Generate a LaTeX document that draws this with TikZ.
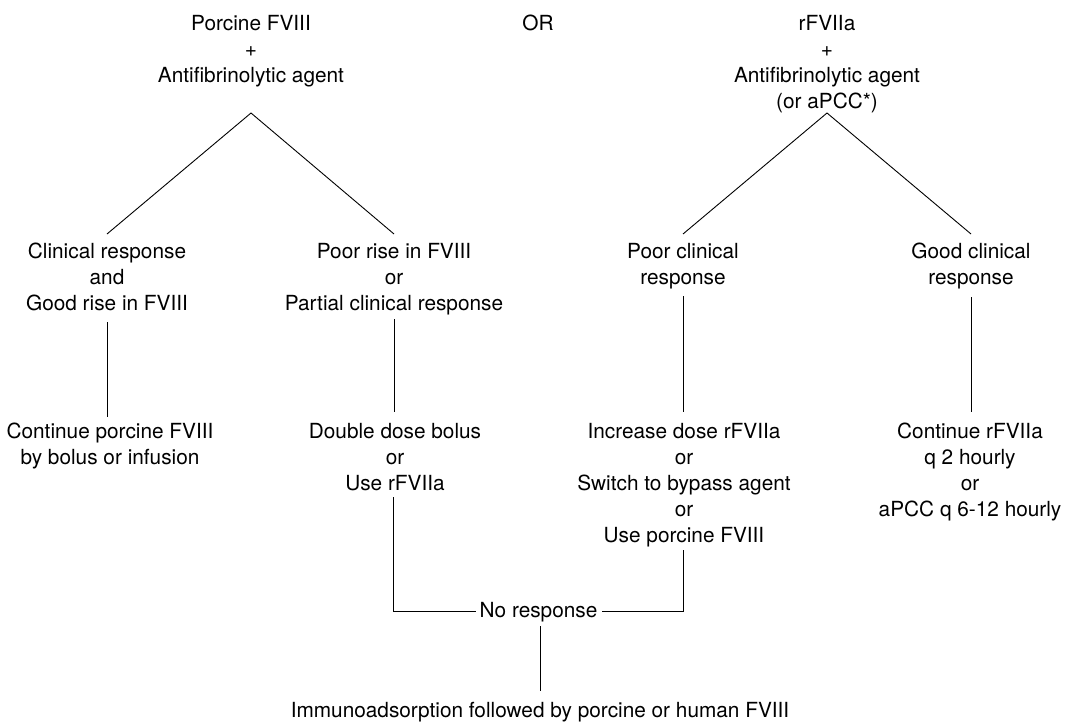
\documentclass[tikz,border=0pt]{standalone}
\usepackage{fontspec}
\setmainfont{TeX Gyre Heros}
\usetikzlibrary{calc}
\begin{document}
\begin{tikzpicture}[x=1pt,y=-1pt,
  txt/.style={inner sep=0pt, outer sep=0pt, align=center, anchor=base,
    font=\fontsize{20.8}{26}\selectfont},
  conn/.style={draw=black, line width=0.9pt}]
\useasboundingbox (0,0) rectangle (1067,723);
% top row (positions are baselines of the last line)
\node[txt] (topL) at (251,82) {Porcine FVIII\\+\\Antifibrinolytic agent};
\node[txt] (orw)  at (538,30) {OR};
\node[txt] (topR) at (827,108) {rFVIIa\\+\\Antifibrinolytic agent\\(or aPCC*)};
% second row
\node[txt] (cl) at (107,310) {Clinical response\\and\\Good rise in FVIII};
\node[txt] (pr) at (394,310) {Poor rise in FVIII\\or\\Partial clinical response};
\node[txt] (pc) at (683,284) {Poor clinical\\response};
\node[txt] (gc) at (971,284) {Good clinical\\response};
% third row
\node[txt] (c1) at (110,464) {Continue porcine FVIII\\by bolus or infusion};
\node[txt] (db) at (395,490) {Double dose bolus\\or\\Use rFVIIa};
\node[txt] (inc) at (684,542) {Increase dose rFVIIa\\or\\Switch to bypass agent\\or\\Use porcine FVIII};
\node[txt] (cr) at (970,516) {Continue rFVIIa\\q 2 hourly\\or\\aPCC q 6-12 hourly};
% bottom
\node[txt] (nr) at (538.5,617) {No response};
\node[txt] (im) at (540,717) {Immunoadsorption followed by porcine or human FVIII};
% split points
\coordinate (apexL) at ($(topL.base)+(0,31)$);
\coordinate (apexR) at ($(topR.base)+(0,5)$);
% triangles
\draw[conn] ($(cl.base)+(0,-76)$) -- (apexL) -- ($(pr.base)+(0,-76)$);
\draw[conn] ($(pc.base)+(0,-50)$) -- (apexR) -- ($(gc.base)+(0,-50)$);
% verticals
\draw[conn] ($(cl.base)+(0,12)$) -- ($(cl.base |- c1.base)+(0,-47)$);
\draw[conn] ($(pr.base)+(0,9)$) -- ($(pr.base |- db.base)+(0,-78)$);
\draw[conn] ($(pc.base)+(0,12)$) -- ($(pc.base |- inc.base)+(0,-130)$);
\draw[conn] ($(gc.base)+(0,13)$) -- ($(gc.base |- cr.base)+(0,-104)$);
% to no response
\draw[conn] ($(nr.west)+(-4,0)$) -| ($(pr.base |- db.base)+(-1,7)$);
\draw[conn] ($(nr.east)+(5,0)$) -| ($(pc.base |- inc.base)+(0,8)$);
\draw[conn] ($(nr.base)+(2,9)$) -- ($(nr.base |- im.base)+(2,-26)$);
\end{tikzpicture}
\end{document}
